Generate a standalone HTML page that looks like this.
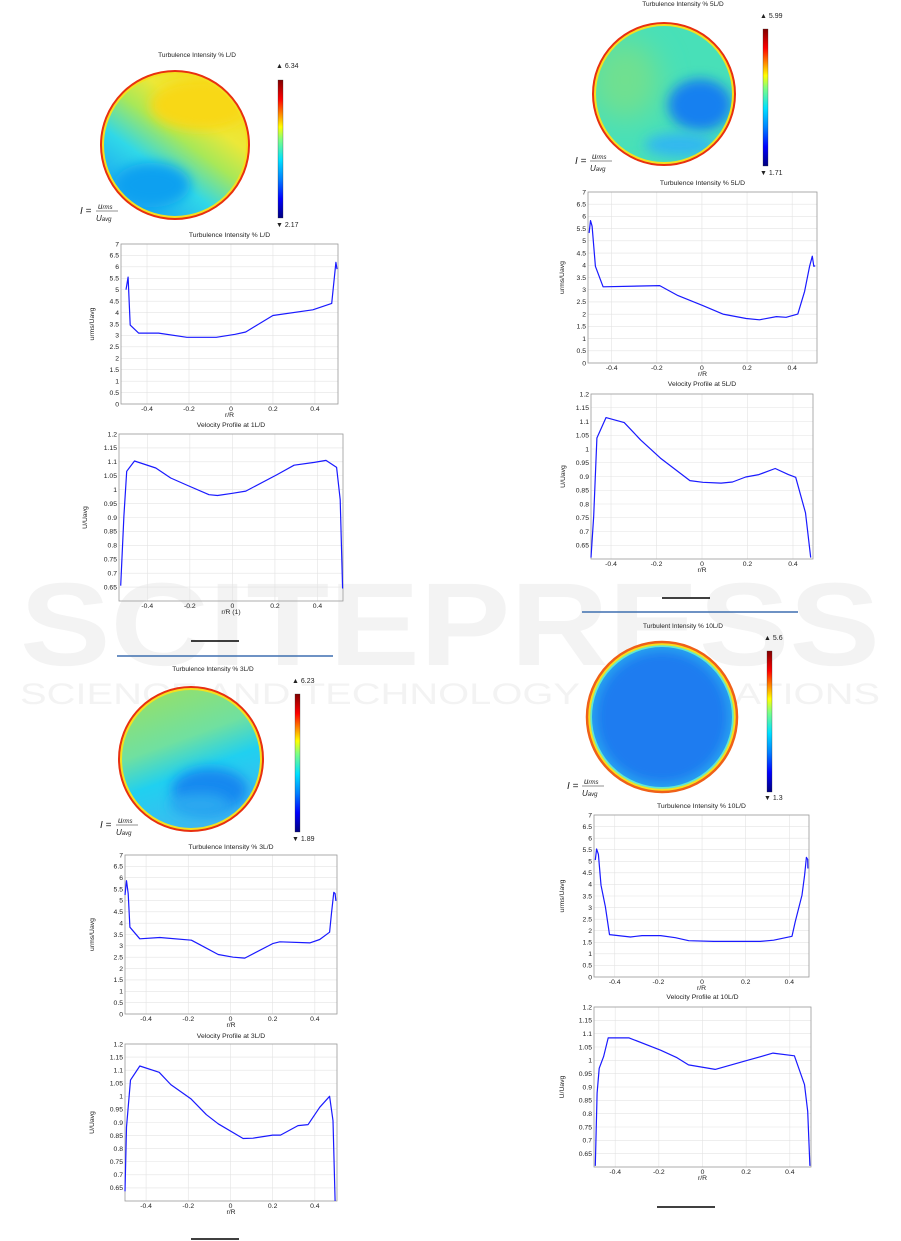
<!DOCTYPE html>
<html><head><meta charset="utf-8">
<style>
html,body{margin:0;padding:0;background:#fff;}
#root{position:relative;width:901px;height:1241px;overflow:hidden;font-family:"Liberation Sans",sans-serif;}
svg text{font-family:"Liberation Sans",sans-serif;}
</style></head>
<body>
<div id="root">
<svg id="svg" width="901" height="1241" viewBox="0 0 901 1241">
<defs>
<linearGradient id="jet" x1="0" y1="1" x2="0" y2="0">
<stop offset="0" stop-color="#00007f"/><stop offset="0.14" stop-color="#0000ff"/><stop offset="0.28" stop-color="#0080ff"/><stop offset="0.42" stop-color="#00e0ff"/><stop offset="0.57" stop-color="#80ff80"/><stop offset="0.66" stop-color="#ffff00"/><stop offset="0.76" stop-color="#ff8000"/><stop offset="0.86" stop-color="#ff0000"/><stop offset="1" stop-color="#800000"/>
</linearGradient>
<filter id="blur8" x="-50%" y="-50%" width="200%" height="200%"><feGaussianBlur stdDeviation="14"/></filter>
<filter id="blur4" x="-50%" y="-50%" width="200%" height="200%"><feGaussianBlur stdDeviation="6"/></filter>
<linearGradient id="g1" x1="0.2" y1="0.85" x2="0.75" y2="0.1">
<stop offset="0" stop-color="#1aa8f2"/><stop offset="0.3" stop-color="#30d8e8"/><stop offset="0.55" stop-color="#a8e858"/><stop offset="0.75" stop-color="#ece838"/><stop offset="1" stop-color="#f6dc20"/>
</linearGradient>
<linearGradient id="g3" x1="0.3" y1="0.1" x2="0.6" y2="0.9">
<stop offset="0" stop-color="#90e070"/><stop offset="0.35" stop-color="#70e0a0"/><stop offset="0.6" stop-color="#20d0f0"/><stop offset="1" stop-color="#40b8f0"/>
</linearGradient>
<clipPath id="c1"><circle cx="175" cy="145" r="74"/></clipPath>
<clipPath id="c2"><circle cx="664" cy="94" r="71"/></clipPath>
<clipPath id="c3"><circle cx="191" cy="759" r="72"/></clipPath>
<clipPath id="c4"><circle cx="662" cy="717" r="75"/></clipPath>
</defs>

<g fill="#f3f3f3">
<text x="450" y="665" font-size="118" font-weight="bold" text-anchor="middle" textLength="860" lengthAdjust="spacingAndGlyphs">SCITEPRESS</text>
<text x="450" y="704" font-size="30" text-anchor="middle" textLength="860" lengthAdjust="spacingAndGlyphs">SCIENCE AND TECHNOLOGY PUBLICATIONS</text>
</g>

<g>
<text x="197" y="57" font-size="6.5" text-anchor="middle" fill="#222">Turbulence Intensity % L/D</text>
<g clip-path="url(#c1)">
<rect x="95" y="65" width="160" height="160" fill="url(#g1)"/>
<ellipse cx="152" cy="185" rx="38" ry="22" fill="#10a0f0" filter="url(#blur4)"/>
<ellipse cx="200" cy="105" rx="50" ry="25" fill="#f8d818" filter="url(#blur4)"/>
</g>
<circle cx="175" cy="145" r="72.5" fill="none" stroke="#f4e020" stroke-width="3"/>
<circle cx="175" cy="145" r="74" fill="none" stroke="#e83010" stroke-width="2"/>
</g>
<g>
<text x="276" y="68" font-size="7" fill="#222">▲ 6.34</text>
<rect x="278" y="80" width="5" height="138" fill="url(#jet)" stroke="#333" stroke-width="0.3"/>
<text x="276" y="227" font-size="7" fill="#222">▼ 2.17</text>
</g>
<g font-family="Liberation Serif" font-style="italic" fill="#222">
<text x="80" y="214" font-size="10">I =</text>
<text x="98" y="209" font-size="8">u<tspan font-size="6">rms</tspan></text>
<line x1="96" y1="211" x2="118" y2="211" stroke="#222" stroke-width="0.6"/>
<text x="96" y="221" font-size="8">U<tspan font-size="6">avg</tspan></text>
</g>

<g>
<text x="213" y="671" font-size="6.5" text-anchor="middle" fill="#222">Turbulence Intensity % 3L/D</text>
<g clip-path="url(#c3)">
<rect x="110" y="680" width="165" height="160" fill="url(#g3)"/>
<ellipse cx="210" cy="790" rx="38" ry="22" fill="#1888f0" filter="url(#blur4)"/>
<ellipse cx="200" cy="805" rx="30" ry="12" fill="#2aa8f0" filter="url(#blur4)"/>
</g>
<circle cx="191" cy="759" r="70.5" fill="none" stroke="#f4e020" stroke-width="3"/>
<circle cx="191" cy="759" r="72" fill="none" stroke="#e83010" stroke-width="2"/>
</g>
<g>
<text x="292" y="683" font-size="7" fill="#222">▲ 6.23</text>
<rect x="295" y="694" width="5" height="138" fill="url(#jet)" stroke="#333" stroke-width="0.3"/>
<text x="292" y="841" font-size="7" fill="#222">▼ 1.89</text>
</g>
<g font-family="Liberation Serif" font-style="italic" fill="#222">
<text x="100" y="828" font-size="10">I =</text>
<text x="118" y="823" font-size="8">u<tspan font-size="6">rms</tspan></text>
<line x1="116" y1="825" x2="138" y2="825" stroke="#222" stroke-width="0.6"/>
<text x="116" y="835" font-size="8">U<tspan font-size="6">avg</tspan></text>
</g>

<g>
<text x="683" y="6" font-size="6.5" text-anchor="middle" fill="#222">Turbulence Intensity % 5L/D</text>
<g clip-path="url(#c2)">
<rect x="590" y="20" width="150" height="150" fill="#48e0b8"/>
<ellipse cx="625" cy="80" rx="35" ry="40" fill="#70e090" filter="url(#blur8)"/>
<ellipse cx="700" cy="105" rx="32" ry="26" fill="#1480f0" filter="url(#blur4)"/>
<ellipse cx="680" cy="145" rx="35" ry="12" fill="#30b8f0" filter="url(#blur4)"/>
</g>
<circle cx="664" cy="94" r="69.5" fill="none" stroke="#f4e020" stroke-width="3"/>
<circle cx="664" cy="94" r="71" fill="none" stroke="#e83010" stroke-width="2"/>
</g>
<g>
<text x="760" y="18" font-size="7" fill="#222">▲ 5.99</text>
<rect x="763" y="29" width="5" height="137" fill="url(#jet)" stroke="#333" stroke-width="0.3"/>
<text x="760" y="175" font-size="7" fill="#222">▼ 1.71</text>
</g>
<g font-family="Liberation Serif" font-style="italic" fill="#222">
<text x="575" y="164" font-size="10">I =</text>
<text x="592" y="159" font-size="8">u<tspan font-size="6">rms</tspan></text>
<line x1="590" y1="161" x2="612" y2="161" stroke="#222" stroke-width="0.6"/>
<text x="590" y="171" font-size="8">U<tspan font-size="6">avg</tspan></text>
</g>

<g>
<text x="683" y="628" font-size="6.5" text-anchor="middle" fill="#222">Turbulent Intensity % 10L/D</text>
<g clip-path="url(#c4)">
<rect x="585" y="640" width="155" height="155" fill="#1e7cf0"/>
<circle cx="662" cy="717" r="72" fill="none" stroke="#30d0f0" stroke-width="6" filter="url(#blur4)"/>
</g>
<circle cx="662" cy="717" r="71" fill="none" stroke="#60e8d0" stroke-width="2"/>
<circle cx="662" cy="717" r="73" fill="none" stroke="#f4e020" stroke-width="2.5"/>
<circle cx="662" cy="717" r="75" fill="none" stroke="#f06018" stroke-width="2.5"/>
</g>
<g>
<text x="764" y="640" font-size="7" fill="#222">▲ 5.6</text>
<rect x="767" y="651" width="5" height="141" fill="url(#jet)" stroke="#333" stroke-width="0.3"/>
<text x="764" y="800" font-size="7" fill="#222">▼ 1.3</text>
</g>
<g font-family="Liberation Serif" font-style="italic" fill="#222">
<text x="567" y="789" font-size="10">I =</text>
<text x="584" y="784" font-size="8">u<tspan font-size="6">rms</tspan></text>
<line x1="582" y1="786" x2="604" y2="786" stroke="#222" stroke-width="0.6"/>
<text x="582" y="796" font-size="8">U<tspan font-size="6">avg</tspan></text>
</g>

<line x1="191" y1="641" x2="239" y2="641" stroke="#000" stroke-width="1.5"/>
<line x1="117" y1="656" x2="333" y2="656" stroke="#3e6fb0" stroke-width="1.5"/>
<line x1="191" y1="1239" x2="239" y2="1239" stroke="#000" stroke-width="1.5"/>
<line x1="662" y1="598" x2="710" y2="598" stroke="#000" stroke-width="1.5"/>
<line x1="582" y1="612" x2="798" y2="612" stroke="#3e6fb0" stroke-width="1.5"/>
<line x1="657" y1="1207" x2="715" y2="1207" stroke="#000" stroke-width="1.5"/>
<g id="charts"></g>
</svg>
</div>
<script>
var tiTicks=[0,0.5,1,1.5,2,2.5,3,3.5,4,4.5,5,5.5,6,6.5,7];
var velTicks=[0.65,0.7,0.75,0.8,0.85,0.9,0.95,1,1.05,1.1,1.15,1.2];
var xTicks=[-0.4,-0.2,0,0.2,0.4];

var ti1X=[-0.5,-0.49,-0.48,-0.44,-0.345,-0.21,-0.07,0.02,0.07,0.2,0.39,0.48,0.5,0.505];
var ti1Y=[5.0,5.55,3.45,3.1,3.1,2.92,2.92,3.05,3.15,3.87,4.12,4.4,6.2,5.9];
var vel1X=[-0.525,-0.51,-0.497,-0.46,-0.36,-0.29,-0.21,-0.11,-0.07,0,0.063,0.21,0.29,0.385,0.44,0.49,0.507,0.518];
var vel1Y=[0.655,0.905,1.066,1.103,1.078,1.042,1.015,0.982,0.979,0.987,0.995,1.054,1.088,1.098,1.105,1.08,0.964,0.645];
var ti3X=[-0.5,-0.493,-0.485,-0.477,-0.43,-0.335,-0.185,-0.145,-0.058,0.013,0.068,0.2,0.234,0.376,0.423,0.47,0.479,0.49,0.496,0.5];
var ti3Y=[5.24,5.87,5.3,3.82,3.31,3.37,3.25,3.05,2.62,2.5,2.46,3.1,3.18,3.13,3.28,3.6,4.44,5.36,5.3,4.98];
var vel3X=[-0.5,-0.493,-0.474,-0.43,-0.338,-0.283,-0.188,-0.114,-0.058,0.06,0.107,0.2,0.237,0.32,0.368,0.423,0.47,0.486,0.496];
var vel3Y=[0.637,0.882,1.062,1.116,1.092,1.045,0.991,0.93,0.895,0.839,0.84,0.852,0.852,0.888,0.892,0.958,1.0,0.907,0.6];
var ti5X=[-0.5,-0.494,-0.487,-0.472,-0.438,-0.187,-0.106,0.004,0.093,0.196,0.255,0.33,0.373,0.425,0.455,0.477,0.489,0.496,0.502];
var ti5Y=[5.32,5.83,5.6,3.96,3.12,3.17,2.76,2.35,2.0,1.82,1.77,1.9,1.87,2.0,2.93,3.96,4.37,3.96,3.98];
var vel5X=[-0.488,-0.476,-0.462,-0.422,-0.342,-0.27,-0.183,-0.053,0.004,0.084,0.134,0.192,0.25,0.322,0.38,0.412,0.455,0.478];
var vel5Y=[0.605,0.756,1.04,1.114,1.096,1.033,0.967,0.885,0.879,0.876,0.88,0.898,0.907,0.929,0.907,0.897,0.768,0.605];
var ti10X=[-0.489,-0.483,-0.475,-0.463,-0.443,-0.424,-0.328,-0.275,-0.19,-0.122,-0.061,0.053,0.267,0.328,0.412,0.427,0.458,0.47,0.478,0.484,0.485];
var ti10Y=[5.05,5.53,5.3,3.97,3.03,1.83,1.73,1.79,1.79,1.7,1.57,1.54,1.54,1.59,1.76,2.38,3.54,4.4,5.17,5.08,4.69];
var vel10X=[-0.491,-0.483,-0.473,-0.453,-0.432,-0.336,-0.192,-0.117,-0.064,0.058,0.202,0.323,0.421,0.467,0.482,0.492];
var vel10Y=[0.604,0.877,0.97,1.014,1.084,1.084,1.038,1.01,0.983,0.966,0.999,1.027,1.017,0.909,0.809,0.604];

var NS='http://www.w3.org/2000/svg';
var root=document.getElementById('charts');
function mk(tag,attrs,parent){var e=document.createElementNS(NS,tag);for(var k in attrs)e.setAttribute(k,attrs[k]);parent.appendChild(e);return e;}
function fmt(v){return (Math.round(v*100)/100).toString();}

function chart(name,L,T,R,B,x0,x1,y0,y1,yTicks,title,titleY,xlab,ylab,ylabX,xs,ys){
  var g=mk('g',{},root);
  
  
  function sx(v){return L+(v-x0)/(x1-x0)*(R-L);}
  function sy(v){return B-(v-y0)/(y1-y0)*(B-T);}
  var t=mk('text',{x:(L+R)/2,y:titleY,'font-size':6.8,'text-anchor':'middle',fill:'#222'},g);t.textContent=title;
  
  
  yTicks.forEach(function(v){
    var y=sy(v);
    var gl=mk('line',{x1:L,x2:R,y1:y,y2:y,stroke:'#e3e3e3','stroke-width':0.6},g);
    
    
    var tl=mk('text',{x:L-2,y:y+2.3,'font-size':6.8,'text-anchor':'end',fill:'#222'},g);tl.textContent=fmt(v);
    
    
  });
  xTicks.forEach(function(v){
    var x=sx(v);
    var gl=mk('line',{x1:x,x2:x,y1:T,y2:B,stroke:'#e3e3e3','stroke-width':0.6},g);
    
    
    var tl=mk('text',{x:x,y:B+7,'font-size':6.8,'text-anchor':'middle',fill:'#222'},g);tl.textContent=fmt(v);
    
    
  });
  var fr=mk('rect',{x:L,y:T,width:R-L,height:B-T,fill:'none',stroke:'#9a9a9a','stroke-width':0.8},g);
  
  
  var xl=mk('text',{x:(L+R)/2,y:B+13,'font-size':6.8,'text-anchor':'middle',fill:'#222'},g);xl.textContent=xlab;
  
  
  var yc=(T+B)/2;
  var yl=mk('text',{x:ylabX,y:yc,'font-size':6.8,'text-anchor':'middle',fill:'#222',transform:'rotate(-90 '+ylabX+' '+yc+')'},g);yl.textContent=ylab;
  
  
  var d='';
  for(var i=0;i<xs.length;i++){var yv=Math.max(y0,Math.min(y1,ys[i]));d+=(i?'L':'M')+sx(xs[i]).toFixed(1)+' '+sy(yv).toFixed(1);}
  var p=mk('path',{d:d,fill:'none',stroke:'#1a1aff','stroke-width':1.2,'stroke-linejoin':'round'},g);
  
  
}

chart('ti-chart-1ld',121,244,338,404,-0.524,0.51,0,7,tiTicks,'Turbulence Intensity % L/D',237,'r/R','urms/Uavg',94,ti1X,ti1Y);
chart('velocity-chart-1ld',119,434,343,601,-0.533,0.52,0.6,1.2,velTicks,'Velocity Profile at 1L/D',427,'r/R (1)','U/Uavg',87,vel1X,vel1Y);
chart('ti-chart-3ld',125,855,337,1014,-0.5,0.505,0,7,tiTicks,'Turbulence Intensity % 3L/D',849,'r/R','urms/Uavg',94,ti3X,ti3Y);
chart('velocity-chart-3ld',125,1044,337,1201,-0.5,0.505,0.6,1.2,velTicks,'Velocity Profile at 3L/D',1038,'r/R','U/Uavg',94,vel3X,vel3Y);
chart('ti-chart-5ld',588,192,817,363,-0.505,0.51,0,7,tiTicks,'Turbulence Intensity % 5L/D',185,'r/R','urms/Uavg',564,ti5X,ti5Y);
chart('velocity-chart-5ld',591,394,813,559,-0.488,0.488,0.6,1.2,velTicks,'Velocity Profile at 5L/D',386,'r/R','U/Uavg',565,vel5X,vel5Y);
chart('ti-chart-10ld',594,815,809,977,-0.495,0.49,0,7,tiTicks,'Turbulence Intensity % 10L/D',808,'r/R','urms/Uavg',564,ti10X,ti10Y);
chart('velocity-chart-10ld',594,1007,811,1167,-0.497,0.497,0.6,1.2,velTicks,'Velocity Profile at 10L/D',999,'r/R','U/Uavg',564,vel10X,vel10Y);
</script>
</body></html>
